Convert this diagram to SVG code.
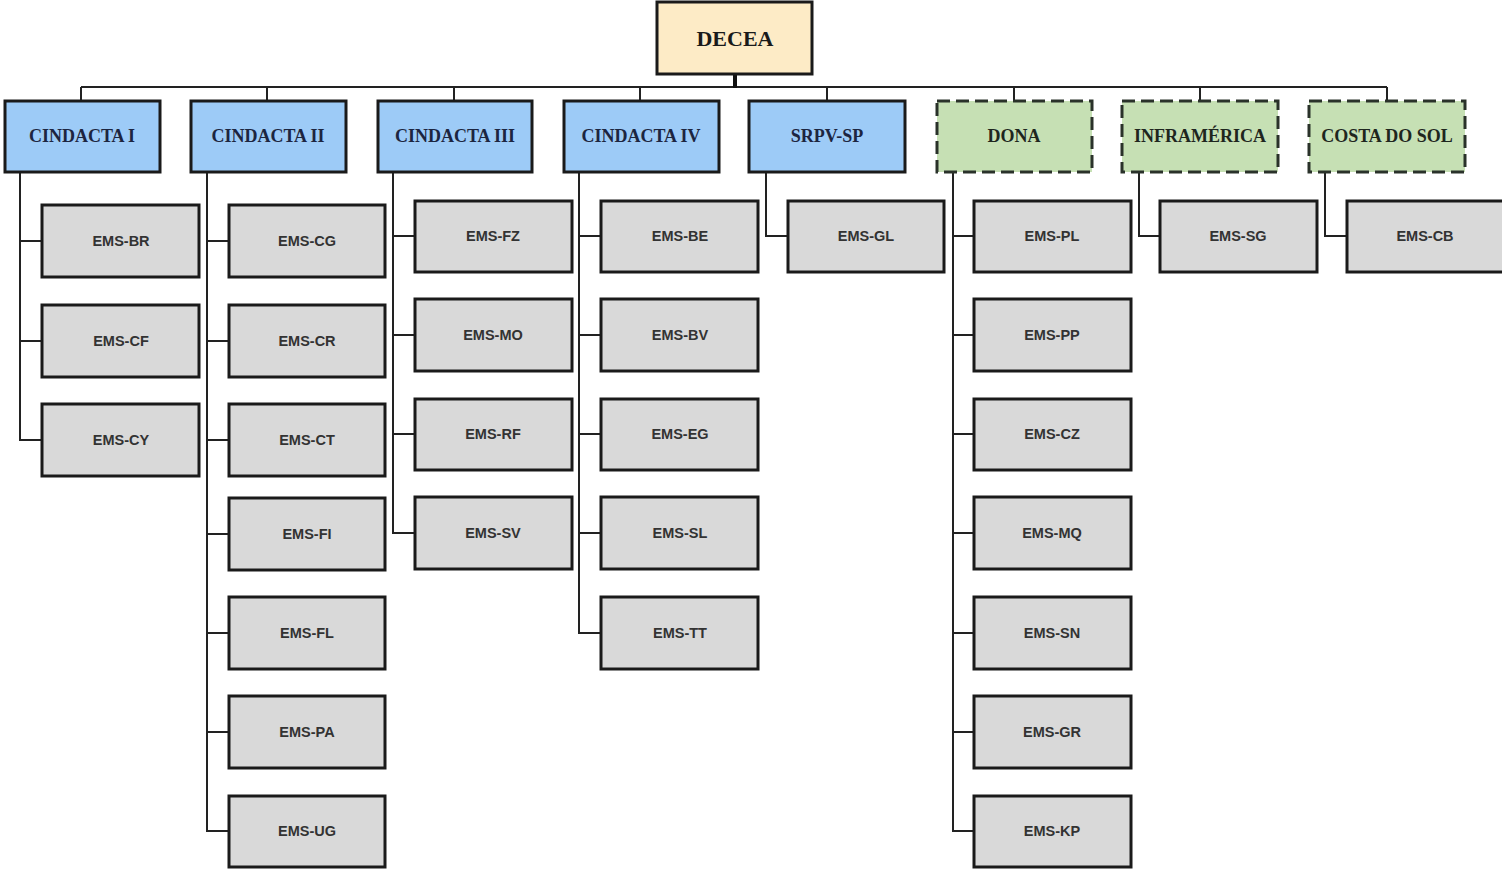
<svg xmlns="http://www.w3.org/2000/svg" width="1502" height="870" viewBox="0 0 1502 870">
<style>
.root{fill:#fdebc6;stroke:#1a1a1a;stroke-width:3}
.blue{fill:#9dcbf7;stroke:#1a1a1a;stroke-width:3}
.green{fill:#c6e0b4;stroke:#2a322a;stroke-width:3;stroke-dasharray:13 6}
.leaf{fill:#d9d9d9;stroke:#1a1a1a;stroke-width:3}
.t1{font-family:"Liberation Serif","Times New Roman",serif;font-weight:bold;font-size:18px;fill:#1c2540;text-anchor:middle;dominant-baseline:central}
.t0{font-family:"Liberation Serif","Times New Roman",serif;font-weight:bold;font-size:22px;fill:#1a1a1a;text-anchor:middle;dominant-baseline:central}
.t2{font-family:"Liberation Sans",Arial,sans-serif;font-weight:bold;font-size:14.5px;fill:#333;text-anchor:middle;dominant-baseline:central}
.c{fill:none;stroke:#222;stroke-width:2}
</style>
<g id="connectors">
<path class="c" d="M81 87H1387"/>
<path d="M735 74V88" stroke="#111" stroke-width="4" fill="none"/>
<path class="c" d="M81 87V101M267 87V101M454 87V101M640 87V101M827 87V101M1014 87V101M1200 87V101M1387 87V101"/>
<path class="c" d="M20 172V440H42M20 241H42M20 341H42"/>
<path class="c" d="M207 172V831H229M207 241H229M207 341H229M207 440H229M207 534H229M207 633H229M207 732H229"/>
<path class="c" d="M393 172V533H415M393 236H415M393 335H415M393 434H415"/>
<path class="c" d="M579 172V633H601M579 236H601M579 335H601M579 434H601M579 533H601"/>
<path class="c" d="M766 172V236H788"/>
<path class="c" d="M953 172V831H974M953 236H974M953 335H974M953 434H974M953 533H974M953 633H974M953 732H974"/>
<path class="c" d="M1139 172V236H1160"/>
<path class="c" d="M1325 172V236H1347"/>
</g>
<g id="decea"><rect class="root" x="657" y="2" width="155" height="72"/><text class="t0" x="735" y="38">DECEA</text></g>
<g id="cindacta1"><rect class="blue" x="5" y="101" width="155" height="71"/><text class="t1" x="82" y="136">CINDACTA I</text></g>
<g id="cindacta2"><rect class="blue" x="191" y="101" width="155" height="71"/><text class="t1" x="268" y="136">CINDACTA II</text></g>
<g id="cindacta3"><rect class="blue" x="378" y="101" width="154" height="71"/><text class="t1" x="455" y="136">CINDACTA III</text></g>
<g id="cindacta4"><rect class="blue" x="564" y="101" width="155" height="71"/><text class="t1" x="641" y="136">CINDACTA IV</text></g>
<g id="srpvsp"><rect class="blue" x="749" y="101" width="156" height="71"/><text class="t1" x="827" y="136">SRPV-SP</text></g>
<g id="dona"><rect class="green" x="937" y="101" width="155" height="71"/><text class="t1" x="1014" y="136" style="fill:#1e261e">DONA</text></g>
<g id="inframerica"><rect class="green" x="1122" y="101" width="156" height="71"/><text class="t1" x="1200" y="136" style="fill:#1e261e">INFRAMÉRICA</text></g>
<g id="costadosol"><rect class="green" x="1309" y="101" width="156" height="71"/><text class="t1" x="1387" y="136" style="fill:#1e261e">COSTA DO SOL</text></g>

<g id="ems-br"><rect class="leaf" x="42" y="205" width="157" height="72"/><text class="t2" x="121" y="241">EMS-BR</text></g>
<g id="ems-cf"><rect class="leaf" x="42" y="305" width="157" height="72"/><text class="t2" x="121" y="341">EMS-CF</text></g>
<g id="ems-cy"><rect class="leaf" x="42" y="404" width="157" height="72"/><text class="t2" x="121" y="440">EMS-CY</text></g>

<g id="ems-cg"><rect class="leaf" x="229" y="205" width="156" height="72"/><text class="t2" x="307" y="241">EMS-CG</text></g>
<g id="ems-cr"><rect class="leaf" x="229" y="305" width="156" height="72"/><text class="t2" x="307" y="341">EMS-CR</text></g>
<g id="ems-ct"><rect class="leaf" x="229" y="404" width="156" height="72"/><text class="t2" x="307" y="440">EMS-CT</text></g>
<g id="ems-fi"><rect class="leaf" x="229" y="498" width="156" height="72"/><text class="t2" x="307" y="534">EMS-FI</text></g>
<g id="ems-fl"><rect class="leaf" x="229" y="597" width="156" height="72"/><text class="t2" x="307" y="633">EMS-FL</text></g>
<g id="ems-pa"><rect class="leaf" x="229" y="696" width="156" height="72"/><text class="t2" x="307" y="732">EMS-PA</text></g>
<g id="ems-ug"><rect class="leaf" x="229" y="796" width="156" height="71"/><text class="t2" x="307" y="831">EMS-UG</text></g>

<g id="ems-fz"><rect class="leaf" x="415" y="201" width="157" height="71"/><text class="t2" x="493" y="236">EMS-FZ</text></g>
<g id="ems-mo"><rect class="leaf" x="415" y="299" width="157" height="72"/><text class="t2" x="493" y="335">EMS-MO</text></g>
<g id="ems-rf"><rect class="leaf" x="415" y="399" width="157" height="71"/><text class="t2" x="493" y="434">EMS-RF</text></g>
<g id="ems-sv"><rect class="leaf" x="415" y="497" width="157" height="72"/><text class="t2" x="493" y="533">EMS-SV</text></g>

<g id="ems-be"><rect class="leaf" x="601" y="201" width="157" height="71"/><text class="t2" x="680" y="236">EMS-BE</text></g>
<g id="ems-bv"><rect class="leaf" x="601" y="299" width="157" height="72"/><text class="t2" x="680" y="335">EMS-BV</text></g>
<g id="ems-eg"><rect class="leaf" x="601" y="399" width="157" height="71"/><text class="t2" x="680" y="434">EMS-EG</text></g>
<g id="ems-sl"><rect class="leaf" x="601" y="497" width="157" height="72"/><text class="t2" x="680" y="533">EMS-SL</text></g>
<g id="ems-tt"><rect class="leaf" x="601" y="597" width="157" height="72"/><text class="t2" x="680" y="633">EMS-TT</text></g>

<g id="ems-gl"><rect class="leaf" x="788" y="201" width="156" height="71"/><text class="t2" x="866" y="236">EMS-GL</text></g>

<g id="ems-pl"><rect class="leaf" x="974" y="201" width="157" height="71"/><text class="t2" x="1052" y="236">EMS-PL</text></g>
<g id="ems-pp"><rect class="leaf" x="974" y="299" width="157" height="72"/><text class="t2" x="1052" y="335">EMS-PP</text></g>
<g id="ems-cz"><rect class="leaf" x="974" y="399" width="157" height="71"/><text class="t2" x="1052" y="434">EMS-CZ</text></g>
<g id="ems-mq"><rect class="leaf" x="974" y="497" width="157" height="72"/><text class="t2" x="1052" y="533">EMS-MQ</text></g>
<g id="ems-sn"><rect class="leaf" x="974" y="597" width="157" height="72"/><text class="t2" x="1052" y="633">EMS-SN</text></g>
<g id="ems-gr"><rect class="leaf" x="974" y="696" width="157" height="72"/><text class="t2" x="1052" y="732">EMS-GR</text></g>
<g id="ems-kp"><rect class="leaf" x="974" y="796" width="157" height="71"/><text class="t2" x="1052" y="831">EMS-KP</text></g>

<g id="ems-sg"><rect class="leaf" x="1160" y="201" width="157" height="71"/><text class="t2" x="1238" y="236">EMS-SG</text></g>
<g id="ems-cb"><rect class="leaf" x="1347" y="201" width="157" height="71"/><text class="t2" x="1425" y="236">EMS-CB</text></g>
</svg>
